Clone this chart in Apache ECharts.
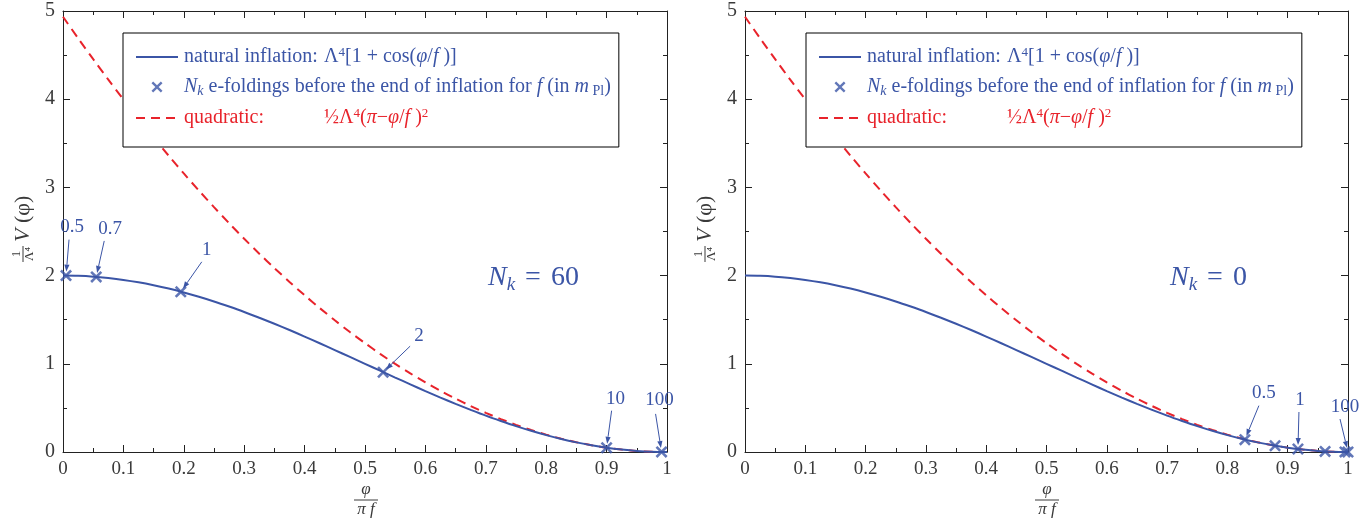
<!DOCTYPE html>
<html><head><meta charset="utf-8">
<script src="https://cdn.jsdelivr.net/npm/echarts@6/dist/echarts.min.js"></script>
<style>html,body{margin:0;padding:0;background:#fff}#c{width:1372px;height:521px}</style>
</head><body><div id="c"></div>
<script>
// ---- data ----
const xs = [0,0.025,0.05,0.075,0.1,0.125,0.15,0.175,0.2,0.225,0.25,0.275,0.3,0.325,0.35,0.375,0.4,0.425,0.45,0.475,0.5,
  0.525,0.55,0.575,0.6,0.625,0.65,0.675,0.7,0.725,0.75,0.775,0.8,0.825,0.85,0.875,0.9,0.925,0.95,0.975,1.0];
const naturalV = [2.000,1.997,1.988,1.972,1.951,1.924,1.891,1.853,1.809,1.760,1.707,1.649,1.588,1.522,1.454,1.383,1.309,1.233,1.156,1.078,1.000,
  0.922,0.844,0.767,0.691,0.617,0.546,0.478,0.412,0.351,0.293,0.240,0.191,0.147,0.109,0.076,0.049,0.028,0.012,0.003,0.000];
const quadraticV = [4.935,4.691,4.454,4.222,3.997,3.778,3.565,3.359,3.158,2.964,2.776,2.594,2.418,2.248,2.085,1.928,1.777,1.632,1.493,1.360,1.234,
  1.113,0.999,0.891,0.790,0.694,0.605,0.521,0.444,0.373,0.308,0.250,0.197,0.151,0.111,0.077,0.049,0.028,0.012,0.003,0.000];
const leftMarkX = [0.005,0.055,0.195,0.530,0.900,0.991];
const leftMarkY = [2.000,1.985,1.816,0.905,0.049,0.001];
const leftMarkLabels = ['0.5','0.7','1','2','10','100'];
const rightMarkX = [0.829,0.879,0.917,0.962,0.995,1.000];
const rightMarkY = [0.140,0.071,0.034,0.007,0.001,0.000];
const rightMarkLabels = ['0.5','','1','','','100'];
const panelNk = ['60','0'];
const seriesNames = ['natural','efold','quadratic'];

// ---- styling / layout (not data) ----
const BLUE = '#3b55a6', RED = '#e8232b', AX = '#222', TXT = '#3a3a3a';
const SERIF = '"Liberation Serif","DejaVu Serif",serif';
// label offsets relative to marker: [labelDx, labelDy, arrowStartDx, arrowStartDy]
const leftOffsets = [[6,-49,3,-36],[14,-48,8,-36],[26,-42,21,-30],[36,-36,27,-26],[9,-49,5,-37],[-2,-52,-6,-38]];
const rightOffsets = [[19,-47,14,-34],null,[2,-49,1,-37],null,null,[-3,-45,-8,-33]];
const grids = [{left:63,right:705,top:11,bottom:69},{left:745,right:24,top:11,bottom:69}];

const XSYM = 'path://M0,1.5L1.5,0L5,3.5L8.5,0L10,1.5L6.5,5L10,8.5L8.5,10L5,6.5L1.5,10L0,8.5L3.5,5Z';

function xAxisDef(gi, pos){
  return {type:'value', gridIndex:gi, position:pos, min:0, max:1, interval:0.1,
    axisLine:{show:true, onZero:false, lineStyle:{color:AX,width:1}},
    axisTick:{show:true, inside:true, length:7, lineStyle:{color:AX}},
    minorTick:{show:true, splitNumber:2, length:4, lineStyle:{color:AX}},
    splitLine:{show:false},
    axisLabel:{show:pos==='bottom', color:TXT, fontFamily:SERIF, fontSize:19, margin:8,
      formatter:v=>String(+v.toFixed(1))}};
}
function yAxisDef(gi, pos){
  return {type:'value', gridIndex:gi, position:pos, min:0, max:5, interval:1,
    axisLine:{show:true, onZero:false, lineStyle:{color:AX,width:1}},
    axisTick:{show:true, inside:true, length:7, lineStyle:{color:AX}},
    minorTick:{show:true, splitNumber:2, length:4, lineStyle:{color:AX}},
    splitLine:{show:false},
    axisLabel:{show:pos==='left', color:TXT, fontFamily:SERIF, fontSize:20, margin:8}};
}

function annotRender(offsets, labels){
  return function(params, api){
    const idx = api.value(2);
    const o = offsets[idx];
    const p = api.coord([api.value(0), api.value(1)]);
    const sx = p[0]+o[2], sy = p[1]+o[3];
    const dx = p[0]-sx, dy = p[1]-sy, L = Math.hypot(dx,dy);
    const ux = dx/L, uy = dy/L;
    const ex = p[0]-ux*4, ey = p[1]-uy*4;
    const hb = 7, hw = 2.6;
    const bx = ex-ux*hb, by = ey-uy*hb;
    return {type:'group', children:[
      {type:'line', shape:{x1:sx,y1:sy,x2:bx,y2:by}, style:{stroke:BLUE,lineWidth:1}},
      {type:'polygon', shape:{points:[[ex,ey],[bx-uy*hw,by+ux*hw],[bx+uy*hw,by-ux*hw]]}, style:{fill:BLUE}},
      {type:'text', x:p[0]+o[0], y:p[1]+o[1], style:{text:labels[idx], fill:BLUE, font:'19px '+SERIF, align:'center', verticalAlign:'middle'}}
    ]};
  };
}

function panelSeries(gi, mx, my, labels, offsets){
  const ax = gi*2;
  const annot = [];
  labels.forEach((l,i)=>{ if(l) annot.push([mx[i], my[i], i]); });
  return [
    {name:'natural', type:'line', xAxisIndex:ax, yAxisIndex:ax, data:xs.map((x,i)=>[x,naturalV[i]]),
      showSymbol:false, symbol:'none', smooth:0.3, lineStyle:{color:BLUE,width:2}, itemStyle:{color:BLUE}, z:3},
    {name:'quadratic', type:'line', xAxisIndex:ax, yAxisIndex:ax, data:xs.map((x,i)=>[x,quadraticV[i]]),
      showSymbol:false, symbol:'none', smooth:0.3, lineStyle:{color:RED,width:2,type:[9,6]}, itemStyle:{color:RED}, z:2},
    {name:'efold', type:'scatter', xAxisIndex:ax, yAxisIndex:ax, data:mx.map((x,i)=>[x,my[i]]),
      symbol:XSYM, symbolSize:12, itemStyle:{color:BLUE}, z:5},
    {name:'annot', type:'custom', xAxisIndex:ax, yAxisIndex:ax, data:annot, clip:false,
      renderItem:annotRender(offsets, labels), z:6, silent:true}
  ];
}

const FS = 20;
const rich = {
  tw:{color:BLUE, fontFamily:SERIF, fontSize:FS, width:140, lineHeight:22},
  t:{color:BLUE, fontFamily:SERIF, fontSize:FS, lineHeight:22},
  i:{color:BLUE, fontFamily:SERIF, fontSize:FS, fontStyle:'italic', lineHeight:22},
  s:{color:BLUE, fontFamily:SERIF, fontSize:13, verticalAlign:'bottom', lineHeight:13, padding:[0,0,9,0]},
  sub:{color:BLUE, fontFamily:SERIF, fontSize:14, verticalAlign:'bottom', lineHeight:13},
  subi:{color:BLUE, fontFamily:SERIF, fontSize:14, fontStyle:'italic', verticalAlign:'bottom', lineHeight:13},
  rw:{color:RED, fontFamily:SERIF, fontSize:FS, width:140, lineHeight:22},
  r:{color:RED, fontFamily:SERIF, fontSize:FS, lineHeight:22},
  ri:{color:RED, fontFamily:SERIF, fontSize:FS, fontStyle:'italic', lineHeight:22},
  rs:{color:RED, fontFamily:SERIF, fontSize:13, verticalAlign:'bottom', lineHeight:13, padding:[0,0,9,0]},
  rh:{color:RED, fontFamily:SERIF, fontSize:20, lineHeight:22}
};
function legendFmt(name){
  if(name==='natural') return '{tw|natural inflation:}{t|Λ}{s|4}{t|[1 + cos(}{i|φ}{t|/}{i|f}{t| )]}';
  if(name==='efold') return '{i|N}{subi|k}{t| e-foldings before the end of inflation for }{i|f}{t| (in }{i|m}{sub| Pl}{t|)}';
  return '{rw|quadratic:}{rh|½}{r|Λ}{rs|4}{r|(}{ri|π}{r|−}{ri|φ}{r|/}{ri|f}{r| )}{rs|2}';
}
function legendDef(left){
  return {left:left, top:33, orient:'vertical', selectedMode:false,
    data:[{name:'natural', itemStyle:{opacity:0}}, {name:'efold'}, {name:'quadratic', itemStyle:{opacity:0}}],
    formatter:legendFmt,
    itemWidth:42, itemHeight:11, itemGap:9, padding:[13,8,18,12], backgroundColor:'#fff',
    borderColor:'#000', borderWidth:1, borderRadius:0, textStyle:{rich:rich, padding:[0,0,0,1]}, z:10};
}

function nkText(left, n){
  return {type:'text', left:left, top:264, z:20, style:{text:'{N|N}{k|k}{e|=}{r|'+n+'}',
    rich:{N:{fill:BLUE,font:'italic 28px '+SERIF, lineHeight:32},
          k:{fill:BLUE,font:'italic 19px '+SERIF, verticalAlign:'bottom', lineHeight:24},
          e:{fill:BLUE,font:'28px '+SERIF, lineHeight:32, padding:[0,10,0,10]},
          r:{fill:BLUE,font:'28px '+SERIF, lineHeight:32}}}};
}
function xName(cx){
  return {type:'group', x:cx, y:0, z:20, children:[
    {type:'text', x:0, y:490, style:{text:'φ', font:'italic 17px '+SERIF, fill:TXT, align:'center', verticalAlign:'middle'}},
    {type:'line', shape:{x1:-12,y1:500,x2:12,y2:500}, style:{stroke:TXT,lineWidth:1}},
    {type:'text', x:0, y:510, style:{text:'π f', font:'italic 17px '+SERIF, fill:TXT, align:'center', verticalAlign:'middle'}}
  ]};
}
function yName(cx){
  return {type:'group', x:cx, y:227, rotation:Math.PI/2, z:20, children:[
    {type:'text', x:-27, y:-6, style:{text:'1', font:'13px '+SERIF, fill:TXT, align:'center', verticalAlign:'middle'}},
    {type:'line', shape:{x1:-35,y1:0,x2:-19,y2:0}, style:{stroke:TXT,lineWidth:1}},
    {type:'text', x:-27, y:7, style:{text:'Λ⁴', font:'13px '+SERIF, fill:TXT, align:'center', verticalAlign:'middle'}},
    {type:'text', x:-15, y:0, style:{text:'{v|V}{p| (φ)}', rich:{v:{fill:TXT,font:'italic 22px '+SERIF},p:{fill:TXT,font:'22px '+SERIF}}, align:'left', verticalAlign:'middle'}}
  ]};
}

const option = {
  backgroundColor:'#fff',
  animation:false,
  grid:grids,
  xAxis:[xAxisDef(0,'bottom'), xAxisDef(0,'top'), xAxisDef(1,'bottom'), xAxisDef(1,'top')],
  yAxis:[yAxisDef(0,'left'), yAxisDef(0,'right'), yAxisDef(1,'left'), yAxisDef(1,'right')],
  legend:[legendDef(123), legendDef(806)],
  series:[].concat(panelSeries(0,leftMarkX,leftMarkY,leftMarkLabels,leftOffsets),
                   panelSeries(1,rightMarkX,rightMarkY,rightMarkLabels,rightOffsets)),
  graphic:[nkText(488, panelNk[0]), nkText(1170, panelNk[1]), xName(366), xName(1047), yName(23), yName(705)]
};
const chart = echarts.init(document.getElementById('c'), null, {renderer:'canvas'});
chart.setOption(option);
</script></body></html>
